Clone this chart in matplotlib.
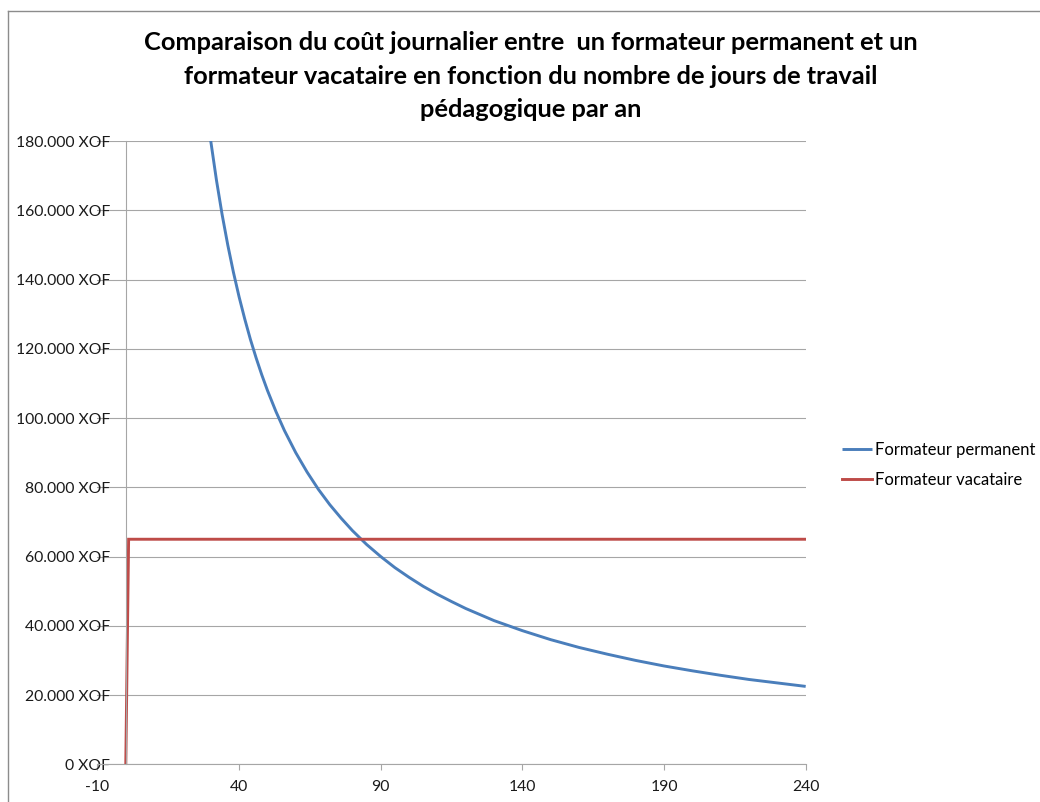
import matplotlib
matplotlib.use("Agg")
import matplotlib.pyplot as plt
from matplotlib.ticker import FuncFormatter, MultipleLocator

plt.rcParams["axes.unicode_minus"] = False

# Days of teaching per year and the daily cost for each kind of trainer
days_permanent = [28, 30, 32, 34, 36, 38, 40, 42, 44, 46, 48, 50, 53, 56, 60, 64,
                  68, 72, 76, 80, 85, 90, 95, 100, 105, 110, 115, 120, 130, 140,
                  150, 160, 170, 180, 190, 200, 210, 220, 230, 240]
cost_permanent = [192900, 180000, 168750, 158800, 150000, 142100, 135000, 128600,
                  122700, 117400, 112500, 108000, 101900, 96400, 90000, 84400,
                  79400, 75000, 71100, 67500, 63500, 60000, 56800, 54000, 51400,
                  49100, 47000, 45000, 41500, 38600, 36000, 33750, 31800, 30000,
                  28400, 27000, 25700, 24500, 23500, 22500]

days_vacataire = [0, 1, 240]
cost_vacataire = [0, 65000, 65000]

series_labels = ["Formateur permanent", "Formateur vacataire"]
x_ticks = [-10, 40, 90, 140, 190, 240]

title = ("Comparaison du coût journalier entre  un formateur permanent et un\n"
         "formateur vacataire en fonction du nombre de jours de travail\n"
         "pédagogique par an")

FONT = "Lato"
GRID = "#A6A6A6"

fig = plt.figure(figsize=(10.4, 8.02), dpi=100)
ax = fig.add_axes([0.0937, 0.047, 0.681, 0.7771])

ax.plot(days_permanent, cost_permanent, color="#4A7EBB", lw=2.1,
        label=series_labels[0], solid_capstyle="butt")
ax.plot(days_vacataire, cost_vacataire, color="#BE4B48", lw=2.1,
        label=series_labels[1], solid_joinstyle="miter")

ax.set_xlim(-10, 240)
ax.set_ylim(0, 180000)
ax.set_xticks(x_ticks)
ax.yaxis.set_major_locator(MultipleLocator(20000))
ax.yaxis.set_major_formatter(
    FuncFormatter(lambda v, _: f"{v:,.0f}".replace(",", ".") + " XOF"))

ax.grid(axis="y", color=GRID, lw=0.8)
ax.set_axisbelow(True)

for side in ("top", "right"):
    ax.spines[side].set_visible(False)
ax.spines["left"].set_position(("data", 0))
ax.spines["left"].set_color(GRID)
ax.spines["left"].set_linewidth(0.8)
ax.spines["bottom"].set_color(GRID)
ax.spines["bottom"].set_linewidth(0.8)

ax.tick_params(axis="y", length=0, pad=11, labelsize=11.3, labelcolor="#1a1a1a")
ax.tick_params(axis="x", length=4.5, width=0.8, color=GRID, pad=7,
               labelsize=11.3, labelcolor="#1a1a1a")
for lbl in ax.get_xticklabels() + ax.get_yticklabels():
    lbl.set_fontfamily(FONT)

fig.text(0.5105, 1 - 76 / 802, title, ha="center", va="center", fontsize=18.3,
         fontweight="bold", family=FONT, linespacing=1.55, color="#000000")

leg = ax.legend(loc="center left", bbox_to_anchor=(842 / 1040, 1 - 465 / 802),
                bbox_transform=fig.transFigure, frameon=False, borderaxespad=0,
                borderpad=0, handlelength=1.8, handletextpad=0.2,
                labelspacing=0.85, prop={"family": FONT, "size": 12})

# chart frame
fig.add_artist(plt.Line2D([8 / 1040, 8 / 1040], [0, 1 - 11 / 802],
                          transform=fig.transFigure, color="#8C8C8C", lw=1))
fig.add_artist(plt.Line2D([8 / 1040, 1], [1 - 11 / 802, 1 - 11 / 802],
                          transform=fig.transFigure, color="#8C8C8C", lw=1))

fig.savefig("out.png", dpi=100, facecolor="white")
